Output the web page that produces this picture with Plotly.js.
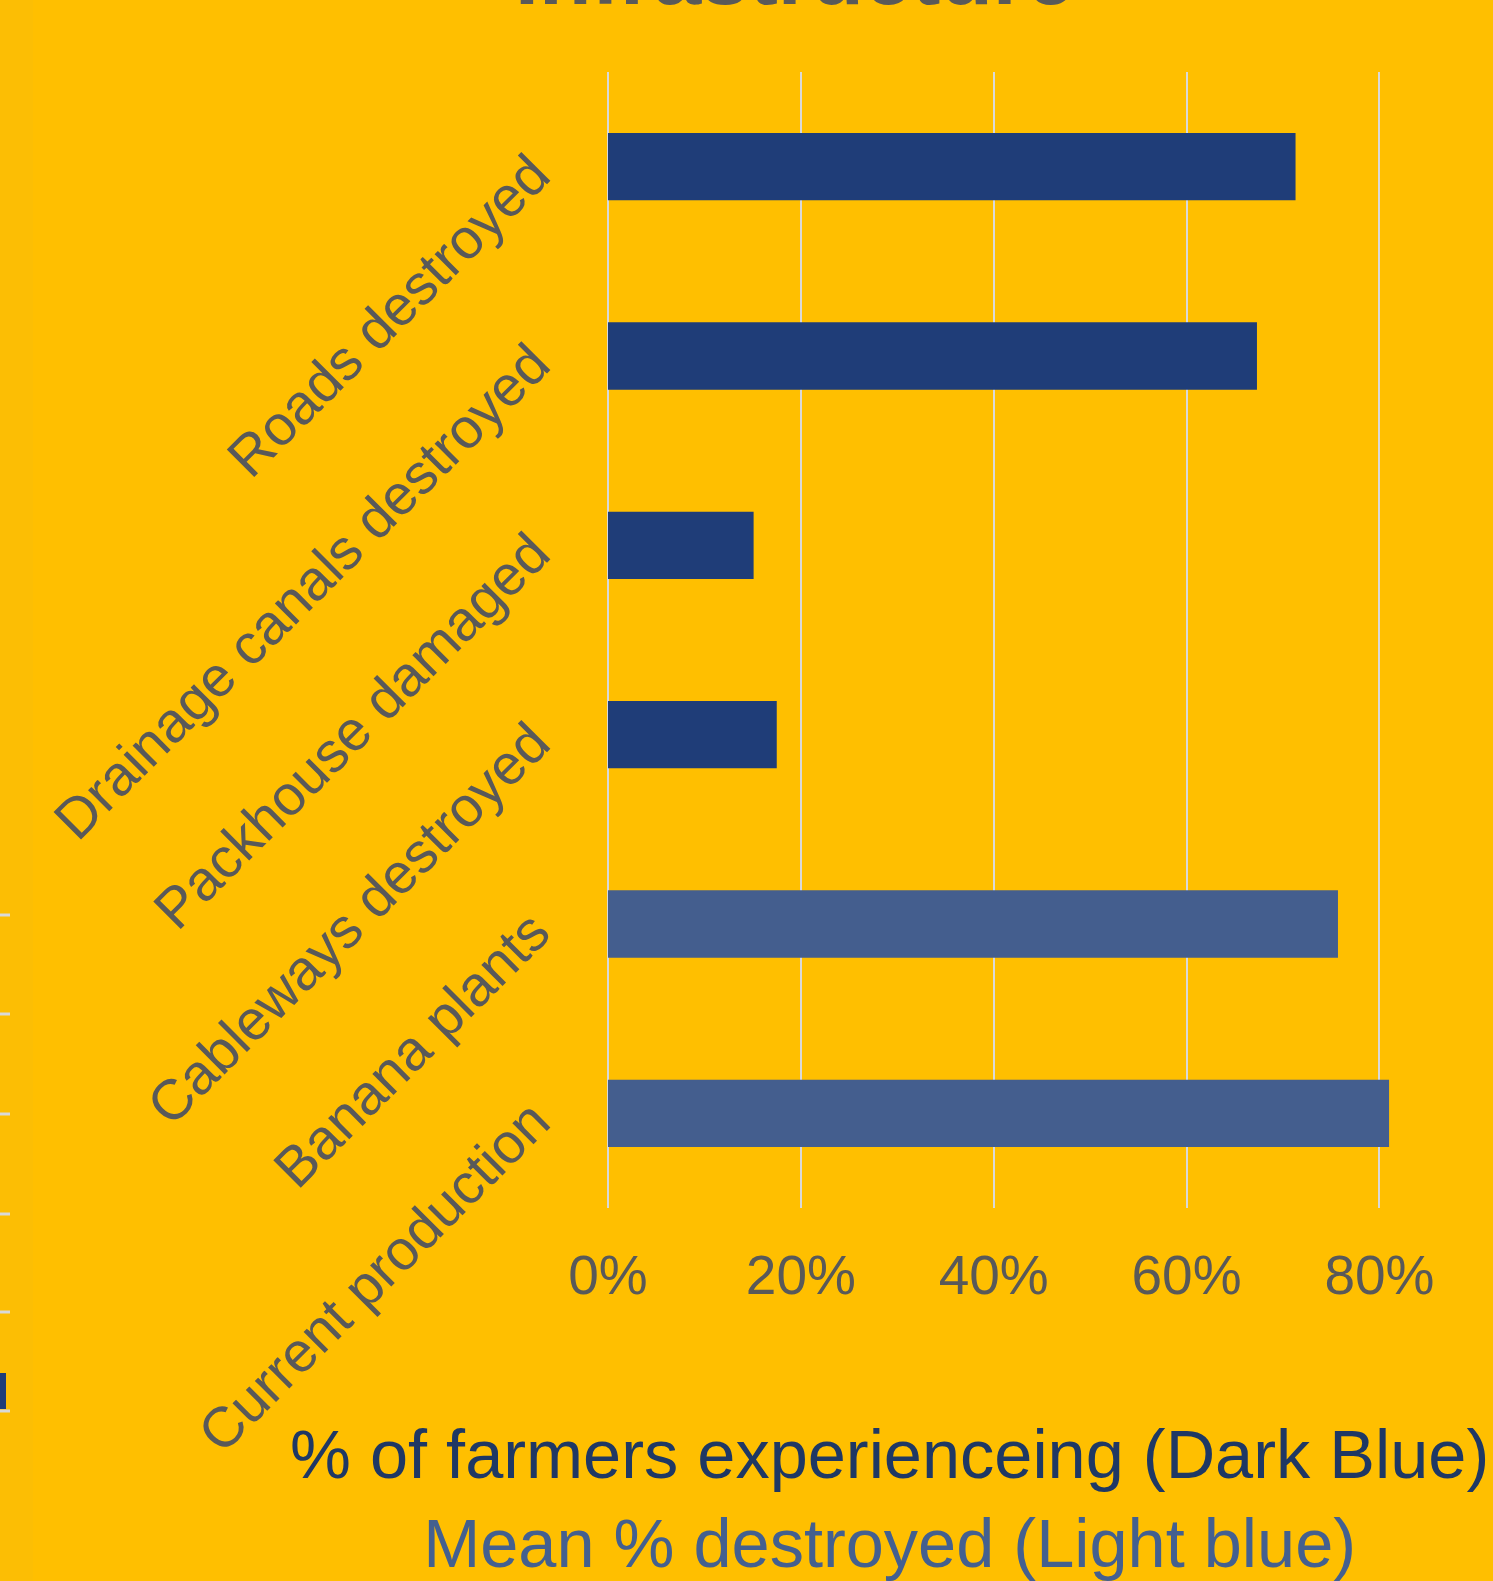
<!DOCTYPE html>
<html>
<head>
<meta charset="utf-8">
<script src="https://cdn.plot.ly/plotly-3.0.1.min.js"></script>
<style>html,body{margin:0;padding:0;background:#FFBF00;}#chart{width:1493px;height:1581px;}</style>
</head>
<body>
<div id="chart"></div>
<script>
// Data
var categories = ["Roads destroyed", "Drainage canals destroyed", "Packhouse damaged", "Cableways destroyed", "Banana plants", "Current production"];
var farmersCategories = ["Roads destroyed", "Drainage canals destroyed", "Packhouse damaged", "Cableways destroyed"];
var farmersValues = [0.713, 0.673, 0.151, 0.175];
var meanCategories = ["Banana plants", "Current production"];
var meanValues = [0.757, 0.81];
var xTickValues = [0, 0.2, 0.4, 0.6, 0.8];
var xTickLabels = ["0%", "20%", "40%", "60%", "80%"];

var W = 1493, H = 1581;
var mL = 608, mR = 75, mT = 72, mB = 373;
var pw = W - mL - mR, ph = H - mT - mB;
function px(x) { return (x - mL) / pw; }
function py(y) { return (H - mB - y) / ph; }

var bg = "#FFBF00";
var traces = [
  {type: "bar", orientation: "h", y: farmersCategories, x: farmersValues, width: 0.356,
   marker: {color: "#1F3D78", line: {width: 0}}, hoverinfo: "x+y"},
  {type: "bar", orientation: "h", y: meanCategories, x: meanValues, width: 0.356,
   marker: {color: "#445E8E", line: {width: 0}}, hoverinfo: "x+y"}
];

var shapes = [];
// left strip (part of neighbouring slide/chart)
shapes.push({type: "rect", xref: "paper", yref: "paper", x0: px(0), x1: px(33), y0: py(H), y1: py(0),
  fillcolor: "#FCBE04", line: {width: 0}, layer: "below"});
var fragY = [915, 1014, 1114, 1214, 1312, 1411];
fragY.forEach(function (y) {
  shapes.push({type: "line", xref: "paper", yref: "paper", x0: px(0), x1: px(10), y0: py(y), y1: py(y),
    line: {color: "#D9D9D9", width: 3}});
});
shapes.push({type: "rect", xref: "paper", yref: "paper", x0: px(0), x1: px(6), y0: py(1409), y1: py(1373),
  fillcolor: "#1F3D78", line: {width: 0}});

var layout = {
  width: W, height: H,
  margin: {l: mL, r: mR, t: mT, b: mB, pad: 0},
  paper_bgcolor: bg, plot_bgcolor: bg,
  showlegend: false,
  barmode: "overlay",
  font: {family: "Liberation Sans, Arial, sans-serif", color: "#595959"},
  xaxis: {
    range: [0, 0.84], tickvals: xTickValues, ticktext: xTickLabels,
    showgrid: true, gridcolor: "#D9D9D9", gridwidth: 2,
    zeroline: true, zerolinecolor: "#D9D9D9", zerolinewidth: 2,
    showline: false, ticks: "", ticklabelstandoff: 30,
    tickfont: {size: 55, color: "#595959"}, fixedrange: true
  },
  yaxis: {
    type: "category", categoryorder: "array", categoryarray: categories,
    autorange: "reversed", showgrid: false, zeroline: false, showline: false,
    ticks: "", tickangle: -45, ticklabelstandoff: 74,
    tickfont: {size: 56.5, color: "#595959"}, fixedrange: true
  },
  shapes: shapes,
  annotations: [
    {xref: "paper", yref: "paper", x: px(889), y: py(H + 3), xanchor: "center", yanchor: "bottom",
     showarrow: false, align: "center",
     text: "<span style='color:#1F3864'>% of farmers experienceing (Dark Blue)</span><br><span style='color:#44608F'>Mean % destroyed (Light blue)</span>",
     font: {size: 68.5, family: "Liberation Sans, Arial, sans-serif", color: "#1F3864"}},
    {xref: "paper", yref: "paper", x: px(794), y: py(24), xanchor: "center", yanchor: "bottom",
     showarrow: false, text: "<b>Infrastructure</b>",
     font: {size: 86, family: "Liberation Sans, Arial, sans-serif", color: "#595959"}}
  ]
};

Plotly.newPlot("chart", traces, layout, {displayModeBar: false, staticPlot: true});
</script>
</body>
</html>
